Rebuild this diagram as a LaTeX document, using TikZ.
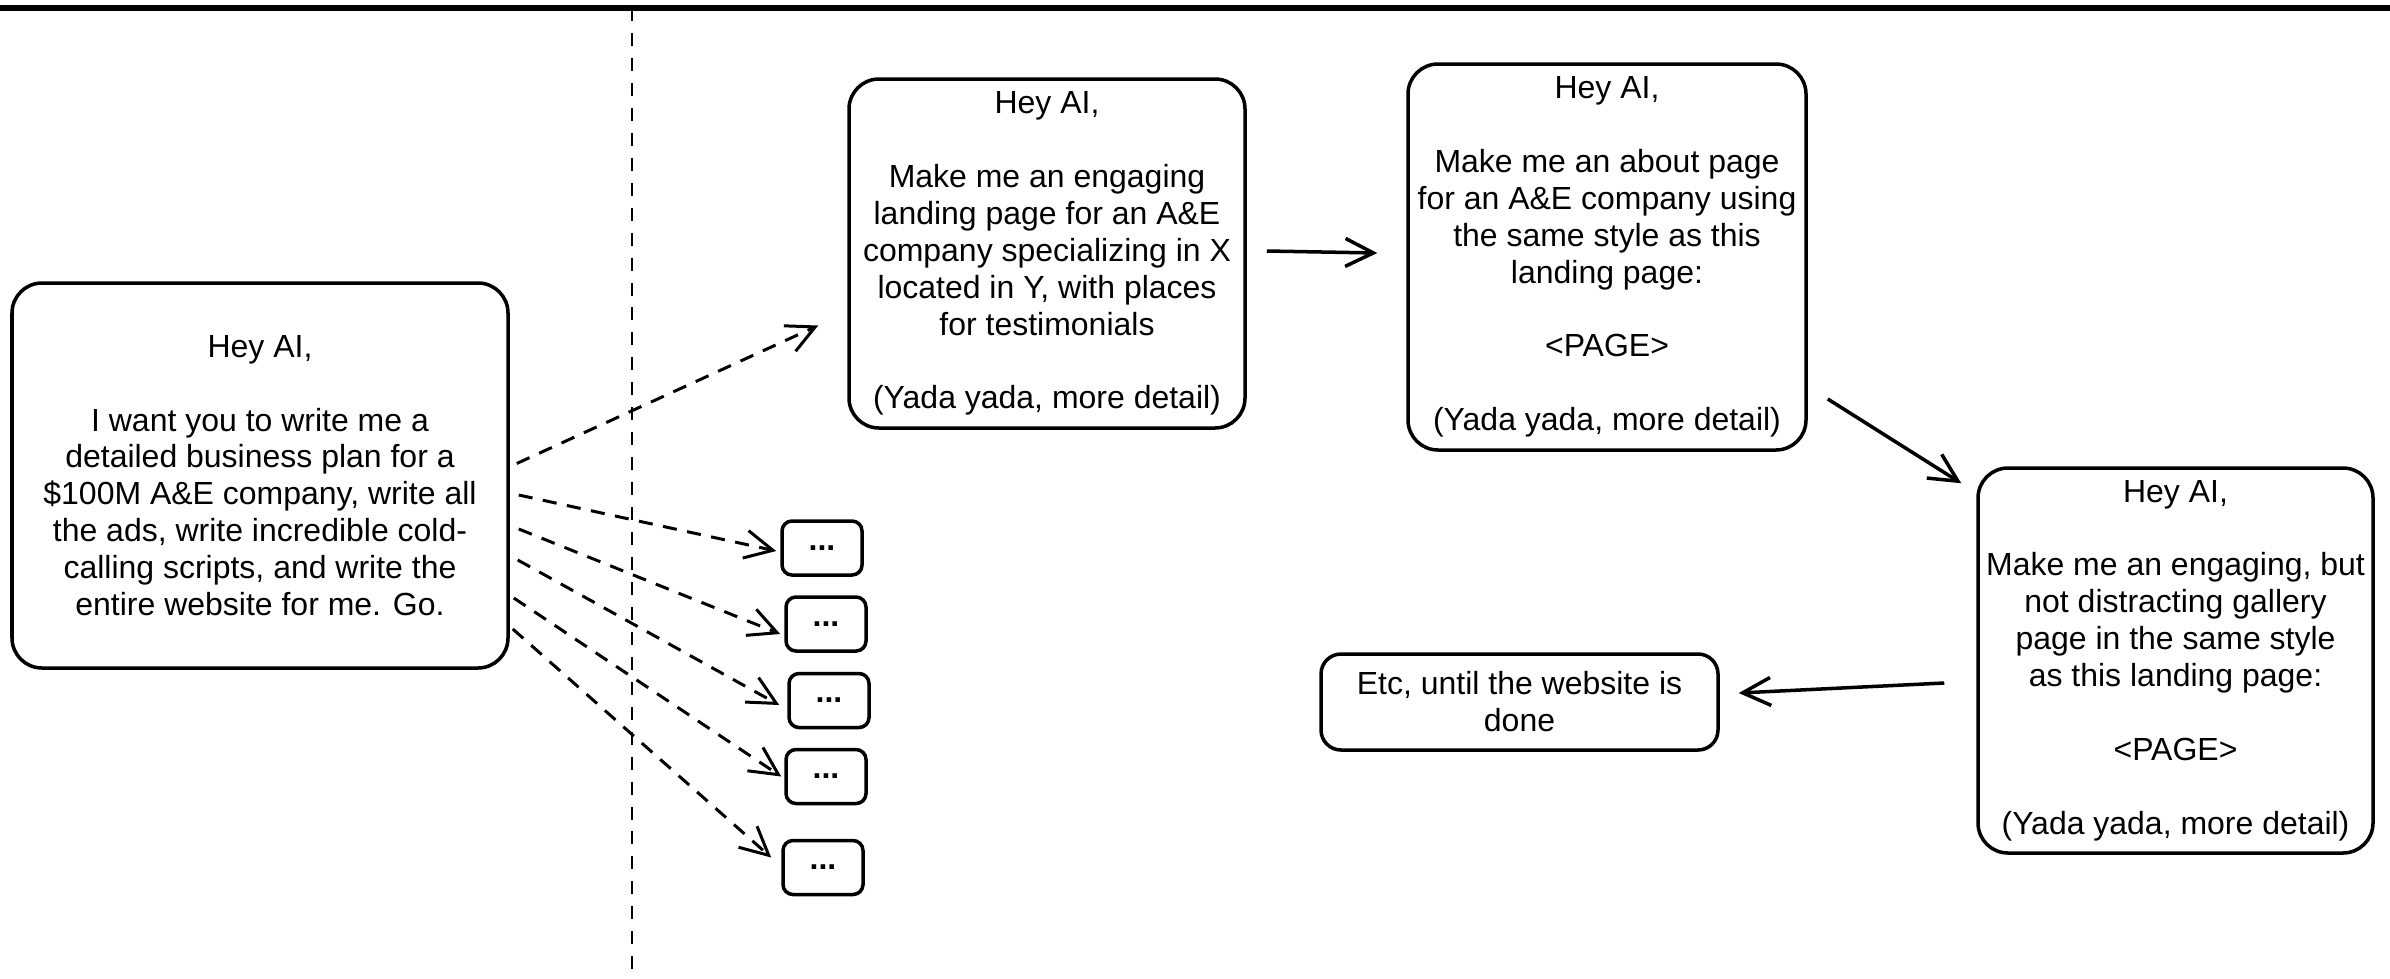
\documentclass[tikz,border=0pt]{standalone}
\usepackage{fontspec}
\setmainfont{Liberation Sans}
\usetikzlibrary{arrows.meta}

\begin{document}
\begin{tikzpicture}[
		promptBox/.style={rectangle, draw=black, line width=1pt, rounded corners=0.3cm, minimum width=3.97cm, align=center, inner sep=0pt, font=\fontsize{9.1}{10.5}\selectfont},
		dotsBox/.style={rectangle, draw=black, line width=1pt, rounded corners=0.1cm, minimum width=0.8cm, minimum height=0.54cm, inner sep=0pt, font=\fontsize{9.1}{10.5}\bfseries},
		dashEdge/.style={-{Straight Barb[length=2.8mm,width=2.8mm]}, line width=0.85pt, dash pattern=on 4pt off 3pt},
		solidEdge/.style={-{Straight Barb[length=2.8mm,width=2.8mm]}, line width=1pt}
	]
		\useasboundingbox (0,0) rectangle (23.9,-9.78);

		% draw page frame
		\draw[line width=1.5pt] (0,-0.08) -- (23.9,-0.08);
		\draw[line width=0.8pt, dash pattern=on 3.7pt off 3.4pt] (6.32,-0.08) -- (6.32,-9.78);

		\node[promptBox, minimum width=4.96cm, minimum height=3.85cm](planBox) at (2.60,-4.755){Hey AI,\\[\baselineskip] I want you to write me a\\ detailed business plan for a\\ \$100M A\&E company, write all\\ the ads, write incredible cold-\\ calling scripts, and write the\\ entire website for me. Go.};

		\node[promptBox, minimum width=3.96cm, minimum height=3.49cm](landingBox) at (10.47,-2.535){Hey AI,\\[\baselineskip] Make me an engaging\\ landing page for an A\&E\\ company specializing in X\\ located in Y, with places\\ for testimonials\\[\baselineskip] (Yada yada, more detail)};
		\node[promptBox, minimum width=3.98cm, minimum height=3.86cm](aboutBox) at (16.07,-2.57){Hey AI,\\[\baselineskip] Make me an about page\\ for an A\&E company using\\ the same style as this\\ landing page:\\[\baselineskip] <PAGE>\\[\baselineskip] (Yada yada, more detail)};
		\node[promptBox, minimum width=3.95cm, minimum height=3.85cm](galleryBox) at (21.755,-6.605){Hey AI,\\[\baselineskip] Make me an engaging, but\\ not distracting gallery\\ page in the same style\\ as this landing page:\\[\baselineskip] <PAGE>\\[\baselineskip] (Yada yada, more detail)};
		\node[promptBox, minimum width=3.97cm, minimum height=0.96cm, rounded corners=0.2cm](etcBox) at (15.195,-7.02){Etc, until the website is\\ done};

		\node[dotsBox](dotsOne) at (8.22,-5.48){...};
		\node[dotsBox](dotsTwo) at (8.26,-6.24){...};
		\node[dotsBox](dotsThree) at (8.29,-7.005){...};
		\node[dotsBox](dotsFour) at (8.26,-7.765){...};
		\node[dotsBox](dotsFive) at (8.23,-8.675){...};

		% draw split edges
		\draw[dashEdge] ([xshift=0.07cm,yshift=0.12cm]planBox.east) -- ([xshift=-0.29cm,yshift=-0.72cm]landingBox.west);
		\draw[dashEdge] ([xshift=0.09cm,yshift=-0.195cm]planBox.east) -- ([xshift=-0.04cm,yshift=-0.03cm]dotsOne.west);
		\draw[dashEdge] ([xshift=0.09cm,yshift=-0.535cm]planBox.east) -- ([xshift=-0.04cm,yshift=-0.1cm]dotsTwo.west);
		\draw[dashEdge] ([xshift=0.08cm,yshift=-0.845cm]planBox.east) -- ([xshift=-0.08cm,yshift=-0.045cm]dotsThree.west);
		\draw[dashEdge] ([xshift=0.04cm,yshift=-1.225cm]planBox.east) -- ([xshift=-0.03cm]dotsFour.west);
		\draw[dashEdge] ([xshift=0.03cm,yshift=-1.535cm]planBox.east) -- ([xshift=-0.1cm,yshift=0.1cm]dotsFive.west);

		% draw page edges
		\draw[solidEdge] ([xshift=0.2cm,yshift=0.025cm]landingBox.east) -- ([xshift=-0.29cm,yshift=0.04cm]aboutBox.west);
		\draw[solidEdge] ([xshift=0.2cm,yshift=-1.42cm]aboutBox.east) -- ([xshift=-0.15cm,yshift=-0.17cm]galleryBox.north west);
		\draw[solidEdge] ([xshift=-0.32cm,yshift=-0.225cm]galleryBox.west) -- ([xshift=0.19cm,yshift=0.09cm]etcBox.east);

	\end{tikzpicture}
\end{document}
